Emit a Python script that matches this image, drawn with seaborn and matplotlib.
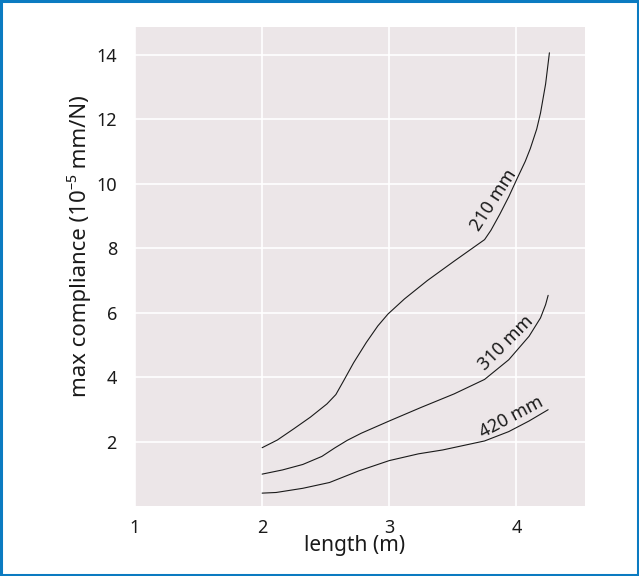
import pandas as pd
import numpy as np
import matplotlib
matplotlib.use('Agg')
import matplotlib.pyplot as plt
import seaborn as sns
from matplotlib.patches import Rectangle

# curves
x_210 = [2.0, 2.12, 2.25, 2.38, 2.51, 2.58, 2.64, 2.72, 2.82, 2.91, 2.99, 3.12, 3.30, 3.51, 3.75,
         3.80, 3.87, 3.94, 4.01, 4.07, 4.11, 4.16, 4.19, 4.23, 4.26]
y_210 = [1.81, 2.05, 2.40, 2.76, 3.17, 3.46, 3.88, 4.45, 5.08, 5.59, 5.96, 6.43, 7.0, 7.60, 8.27,
         8.56, 9.06, 9.60, 10.2, 10.7, 11.1, 11.7, 12.2, 13.1, 14.07]

x_310 = [2.0, 2.16, 2.32, 2.47, 2.57, 2.67, 2.78, 3.0, 3.25, 3.51, 3.75, 3.94, 4.10, 4.19, 4.23, 4.25]
y_310 = [0.99, 1.12, 1.29, 1.54, 1.80, 2.04, 2.26, 2.64, 3.06, 3.48, 3.93, 4.54, 5.27, 5.84, 6.25, 6.54]

x_420 = [2.0, 2.11, 2.32, 2.53, 2.76, 3.0, 3.23, 3.42, 3.75, 3.94, 4.10, 4.25]
y_420 = [0.40, 0.42, 0.55, 0.73, 1.09, 1.41, 1.62, 1.74, 2.02, 2.31, 2.64, 2.99]

labels = ['210 mm', '310 mm', '420 mm']
label_x = [3.82, 3.92, 3.96]
label_y = [9.5, 5.06, 2.75]
label_rot = [57, 45, 28]

xticks = [1, 2, 3, 4]
yticks = [2, 4, 6, 8, 10, 12, 14]

df = pd.concat([
    pd.DataFrame({'length': x_210, 'compliance': y_210, 'width': '210 mm'}),
    pd.DataFrame({'length': x_310, 'compliance': y_310, 'width': '310 mm'}),
    pd.DataFrame({'length': x_420, 'compliance': y_420, 'width': '420 mm'}),
])

sns.set_theme(style='darkgrid', rc={'axes.facecolor': '#ece6e8', 'grid.color': 'white',
                                    'grid.linewidth': 1.2})
plt.rcParams['font.family'] = ['Noto Sans', 'DejaVu Sans']

fig = plt.figure(figsize=(6.39, 5.76), dpi=100)
ax = fig.add_axes([0.2113, 0.1215, 0.7042, 0.8316])

for w in labels:
    d = df[df['width'] == w]
    sns.lineplot(data=d, x='length', y='compliance', sort=False, estimator=None,
                 color='#1a1a1a', linewidth=0.8, ax=ax)

for t, lx, ly, r in zip(labels, label_x, label_y, label_rot):
    ax.text(lx, ly, t, rotation=r, rotation_mode='anchor', ha='center', va='center',
            fontsize=13, color='#1a1a1a')

ax.set_xlim(1, 4.54)
ax.set_ylim(0, 14.87)
ax.set_xticks(xticks)
ax.set_yticks(yticks)
ax.tick_params(axis='x', labelsize=13, colors='#1a1a1a', pad=3)
ax.tick_params(axis='y', labelsize=13, colors='#1a1a1a', pad=7)
ax.set_xlabel('length (m)', fontsize=15, color='#1a1a1a', labelpad=-1)
ax.set_ylabel('max compliance (10⁻⁵ mm/N)', fontsize=16, color='#1a1a1a', labelpad=4)
ax.xaxis.label.set_x(0.487)
ax.yaxis.label.set_y(0.543)
for s in ax.spines.values():
    s.set_visible(False)

fig.patches.append(Rectangle((0.0015, 0.002), 0.997, 0.996, transform=fig.transFigure,
                             fill=False, edgecolor='#0b7bc1', linewidth=2.2))

fig.savefig('out.png', dpi=100, facecolor='white')
